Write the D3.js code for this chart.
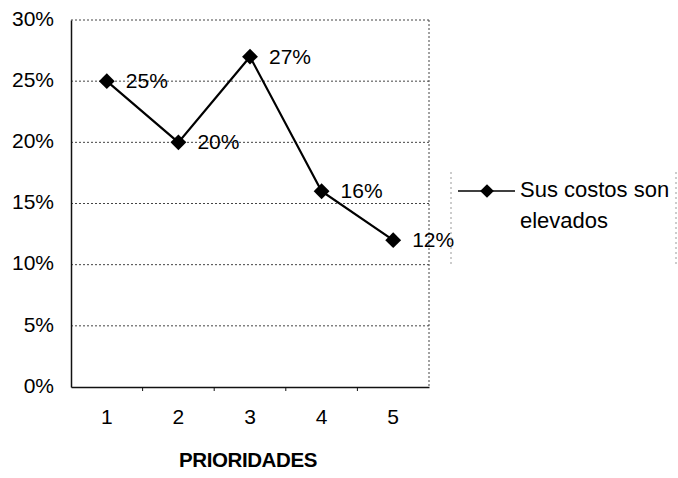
<!DOCTYPE html>
<html>
<head>
<meta charset="utf-8">
<script src="https://cdn.jsdelivr.net/npm/d3@7"></script>
<style>
  html, body { margin: 0; padding: 0; background: #fff; }
  svg { display: block; }
  text { font-family: "Liberation Sans", Arial, sans-serif; fill: #000; }
</style>
</head>
<body>
<svg id="chart" width="678" height="478"></svg>
<script>
// Priority ranking data
const categories = ["1", "2", "3", "4", "5"];
const values = [0.25, 0.20, 0.27, 0.16, 0.12];
const yTicks = [0, 0.05, 0.10, 0.15, 0.20, 0.25, 0.30];
const seriesName = ["Sus costos son", "elevados"];
const axisTitle = "PRIORIDADES";

const svg = d3.select("#chart");
const plot = { left: 71, right: 429, top: 20, bottom: 387 };
const FONT = "'Liberation Sans', Arial, sans-serif";

const x = d3.scaleBand().domain(categories).range([plot.left, plot.right]);
const y = d3.scaleLinear().domain([0, 0.30]).range([plot.bottom, plot.top]);
const fmt = d3.format(".0%");

// Horizontal gridlines (dotted)
svg.append("g").selectAll("line").data(yTicks.filter(t => t > 0)).join("line")
  .attr("x1", plot.left).attr("x2", plot.right)
  .attr("y1", d => y(d)).attr("y2", d => y(d))
  .attr("stroke", "#444").attr("stroke-width", 1)
  .attr("stroke-dasharray", "2,2");

// Plot area right border (dotted)
svg.append("line")
  .attr("x1", plot.right).attr("x2", plot.right)
  .attr("y1", plot.top).attr("y2", plot.bottom)
  .attr("stroke", "#444").attr("stroke-dasharray", "2,2");

// Y axis
const yAxis = svg.append("g")
  .attr("transform", `translate(${plot.left},0)`)
  .call(d3.axisLeft(y).tickValues(yTicks).tickFormat(fmt).tickSize(0).tickPadding(17));
yAxis.select(".domain").attr("stroke", "#111").attr("stroke-width", 1.5);
yAxis.selectAll("text").style("font-size", "21px").style("font-family", FONT)
  .attr("dy", "0.25em");

// X axis with ticks at category boundaries
const xAxis = svg.append("g")
  .attr("transform", `translate(0,${plot.bottom})`)
  .call(d3.axisBottom(x).tickSize(0).tickPadding(22));
xAxis.select(".domain").attr("stroke", "#111").attr("stroke-width", 1.5);
xAxis.selectAll("text").style("font-size", "21px").style("font-family", FONT);
svg.append("g").selectAll("line")
  .data(categories.slice(1))
  .join("line")
  .attr("x1", d => x(d)).attr("x2", d => x(d))
  .attr("y1", plot.bottom).attr("y2", plot.bottom + 4)
  .attr("stroke", "#111");

// Series line
const pts = categories.map((c, i) => [x(c) + x.bandwidth() / 2, y(values[i])]);
svg.append("path")
  .attr("d", d3.line()(pts))
  .attr("fill", "none").attr("stroke", "#000").attr("stroke-width", 2.2);

// Diamond markers
const diamond = d3.symbol().type(d3.symbolDiamond2).size(160);
svg.append("g").selectAll("path").data(pts).join("path")
  .attr("transform", d => `translate(${d[0]},${d[1]})`)
  .attr("d", diamond)
  .attr("fill", "#000");

// Value labels
svg.append("g").selectAll("text").data(values).join("text")
  .attr("x", (d, i) => pts[i][0] + 19)
  .attr("y", (d, i) => pts[i][1] + 7)
  .style("font-size", "21px")
  .text(d => fmt(d));

// Axis title
svg.append("text")
  .attr("x", 248)
  .attr("y", 467)
  .attr("text-anchor", "middle")
  .style("font-size", "20.5px")
  .style("font-weight", "bold")
  .style("letter-spacing", "-0.4px")
  .text(axisTitle);

// Legend
const legend = svg.append("g");
[451, 676].forEach(lx => legend.append("line")
  .attr("x1", lx).attr("x2", lx).attr("y1", 172).attr("y2", 266)
  .attr("stroke", "#999").attr("stroke-dasharray", "2,3"));
legend.append("line")
  .attr("x1", 458).attr("x2", 515).attr("y1", 191).attr("y2", 191)
  .attr("stroke", "#000").attr("stroke-width", 1.5);
legend.append("path")
  .attr("transform", "translate(487,191)")
  .attr("d", d3.symbol().type(d3.symbolDiamond2).size(120))
  .attr("fill", "#000");
legend.selectAll("text.leg").data(seriesName).join("text")
  .attr("class", "leg")
  .attr("x", 520)
  .attr("y", (d, i) => 197 + i * 31)
  .style("font-size", "22px")
  .text(d => d);
</script>
</body>
</html>
